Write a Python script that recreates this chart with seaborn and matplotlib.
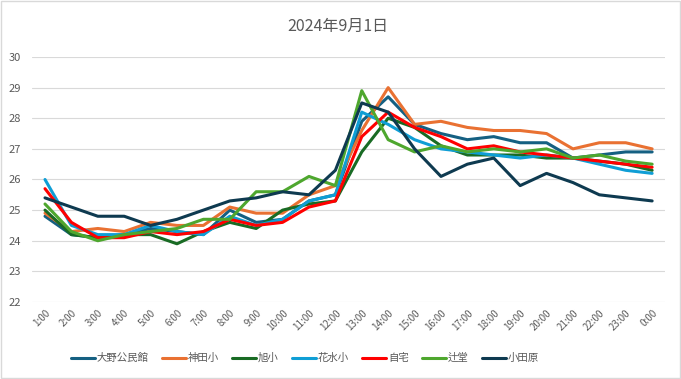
import numpy as np
import pandas as pd
import seaborn as sns
import matplotlib.pyplot as plt
from matplotlib.patches import Rectangle

# Hourly temperatures (deg C) on 2024-09-01
hours = ['{}:00'.format(h) for h in range(1, 24)] + ['0:00']
sites = ['大野公民館', '神田小', '旭小', '花水小', '自宅', '辻堂', '小田原']

oono = [24.8, 24.2, 24.1, 24.2, 24.4, 24.3, 24.2, 25.0, 24.6, 24.7, 25.3, 25.5,
        27.9, 28.7, 27.8, 27.5, 27.3, 27.4, 27.2, 27.2, 26.7, 26.8, 26.9, 26.9]
kanda = [24.9, 24.3, 24.4, 24.3, 24.6, 24.5, 24.5, 25.1, 24.9, 24.9, 25.5, 25.8,
         27.6, 29.0, 27.8, 27.9, 27.7, 27.6, 27.6, 27.5, 27.0, 27.2, 27.2, 27.0]
asahi = [25.0, 24.2, 24.1, 24.2, 24.2, 23.9, 24.3, 24.6, 24.4, 25.0, 25.2, 25.3,
         26.9, 28.0, 27.7, 27.1, 26.8, 26.8, 26.8, 26.7, 26.7, 26.6, 26.5, 26.3]
hanamizu = [26.0, 24.5, 24.2, 24.2, 24.5, 24.3, 24.2, 24.8, 24.5, 24.7, 25.3, 25.5,
            28.2, 27.8, 27.3, 27.0, 26.9, 26.8, 26.7, 26.8, 26.7, 26.5, 26.3, 26.2]
jitaku = [25.7, 24.6, 24.1, 24.1, 24.3, 24.2, 24.3, 24.7, 24.5, 24.6, 25.1, 25.3,
          27.4, 28.2, 27.7, 27.4, 27.0, 27.1, 26.9, 26.8, 26.7, 26.6, 26.5, 26.4]
tsujido = [25.2, 24.3, 24.0, 24.2, 24.3, 24.4, 24.7, 24.7, 25.6, 25.6, 26.1, 25.8,
           28.9, 27.3, 26.9, 27.1, 26.9, 27.0, 26.9, 27.0, 26.7, 26.8, 26.6, 26.5]
odawara = [25.4, 25.1, 24.8, 24.8, 24.5, 24.7, 25.0, 25.3, 25.4, 25.6, 25.5, 26.3,
           28.5, 28.2, 27.0, 26.1, 26.5, 26.7, 25.8, 26.2, 25.9, 25.5, 25.4, 25.3]

colors = ['#156082', '#E97132', '#196B24', '#0F9ED5', '#FF0000', '#4EA72E', '#0E3A50']

series = [oono, kanda, asahi, hanamizu, jitaku, tsujido, odawara]
df = pd.DataFrame({
    'Hour': hours * len(sites),
    'Site': np.repeat(sites, len(hours)),
    'Temp': np.concatenate(series),
})

sns.set_theme(style='white')
plt.rcParams['font.family'] = ['Noto Sans CJK JP', 'DejaVu Sans']

fig = plt.figure(figsize=(6.81, 3.79), dpi=100)
ax = fig.add_axes([0.0467, 0.2032, 0.9303, 0.6464])

sns.lineplot(data=df, x='Hour', y='Temp', hue='Site', palette=dict(zip(sites, colors)),
             sort=False, linewidth=2.2, ax=ax)

ax.set_xlim(-0.5, len(hours) - 0.5)
ax.set_ylim(22, 30)
ax.set_yticks(range(22, 31))
ax.yaxis.grid(True, color='#D9D9D9', linewidth=0.8)
ax.set_axisbelow(True)
for s in ax.spines.values():
    s.set_visible(False)
ax.set_xlabel('')
ax.set_ylabel('')
ax.tick_params(axis='y', labelsize=8, labelcolor='#595959', length=0, pad=8)
ax.tick_params(axis='x', labelsize=7, labelcolor='#595959', length=0, pad=4)
ax.set_xticks(range(len(hours)))
ax.set_xticklabels(hours, rotation=45, ha='right', rotation_mode='anchor')

handles, labels = ax.get_legend_handles_labels()
ax.legend_.remove()
fig.legend(handles, labels, loc='center', bbox_to_anchor=(305 / 681, 1 - 358 / 379),
           ncol=7, frameon=False, fontsize=7.5, handlelength=2.3, columnspacing=1.3,
           handletextpad=0.15, labelcolor='#595959')

fig.text(338 / 681, 1 - 26 / 379, '2024年9月1日', ha='center', va='center',
         fontsize=11.5, color='#595959')

fig.patches.append(Rectangle((0.001, 0.002), 0.997, 0.996, transform=fig.transFigure,
                             fill=False, edgecolor='#D9D9D9', linewidth=1))

fig.savefig('out.png', dpi=100)
